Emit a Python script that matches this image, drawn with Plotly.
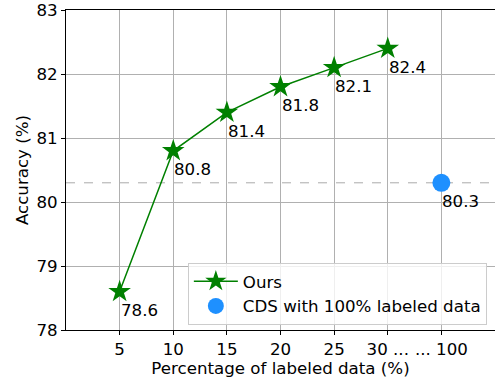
import plotly.graph_objects as go

tick_labels = ["5", "10", "15", "20", "25", "30 ...", "... 100"]
ours_labels = ["5", "10", "15", "20", "25", "30 ..."]
ours_acc = [78.6, 80.8, 81.4, 81.8, 82.1, 82.4]
cds_labels = ["... 100"]
cds_acc = [80.3]
y_ticks = [78, 79, 80, 81, 82, 83]

FONT = "DejaVu Sans"
FS = 16.67

# x positions follow the tick-label order (1-based, axis starts at 0)
pos = {lab: i + 1 for i, lab in enumerate(tick_labels)}
ours_x = [pos[l] for l in ours_labels]
cds_x = [pos[l] for l in cds_labels]

fig = go.Figure()
fig.add_trace(go.Scatter(
    x=ours_x, y=ours_acc, mode="lines+markers", name="Ours",
    line=dict(color="#008000", width=1.5),
    marker=dict(symbol="star", size=17, color="#008000", line=dict(width=0)),
))
fig.add_trace(go.Scatter(
    x=cds_x, y=cds_acc, mode="markers", name="CDS with 100% labeled data",
    marker=dict(symbol="circle", size=18, color="#1E90FF", line=dict(width=0)),
))

# horizontal dashed reference line at the CDS value
fig.add_shape(type="line", xref="paper", x0=0, x1=1, yref="y",
              y0=cds_acc[0], y1=cds_acc[0], layer="between",
              line=dict(color="#aaaaaa", width=1, dash="dash"))

for xv, yv in list(zip(ours_x, ours_acc)) + list(zip(cds_x, cds_acc)):
    fig.add_annotation(x=xv, y=yv, text=f"{yv:.1f}", showarrow=False,
                       xanchor="left", yanchor="middle", xshift=-1, yshift=-19,
                       font=dict(family=FONT, size=FS, color="black"))

fig.update_layout(
    width=495, height=382,
    margin=dict(l=66, r=0, t=10, b=52),
    paper_bgcolor="white", plot_bgcolor="white",
    font=dict(family=FONT, size=FS, color="black"),
    showlegend=True,
    legend=dict(
        x=0.981, y=0.016, xanchor="right", yanchor="bottom",
        bgcolor="rgba(255,255,255,0.8)", bordercolor="#cccccc", borderwidth=1,
        font=dict(family=FONT, size=FS, color="black"),
        tracegroupgap=0, itemwidth=44,
    ),
)
fig.update_xaxes(
    range=[0, 8], tickvals=list(pos.values()), ticktext=tick_labels,
    showgrid=True, gridcolor="#b0b0b0", gridwidth=1,
    showline=True, linecolor="black", linewidth=1, mirror=True,
    ticks="outside", ticklen=4, tickcolor="black",
    title=dict(text="Percentage of labeled data (%)", standoff=2,
               font=dict(family=FONT, size=FS)),
    tickfont=dict(family=FONT, size=FS),
    zeroline=False, automargin=False,
)
fig.update_yaxes(
    range=[78, 83], tickvals=y_ticks, showgrid=True, gridcolor="#b0b0b0", gridwidth=1,
    showline=True, linecolor="black", linewidth=1, mirror=False,
    ticks="outside", ticklen=4, tickcolor="black", ticklabeloverflow="allow",
    title=dict(text="Accuracy (%)", standoff=3, font=dict(family=FONT, size=FS)),
    tickfont=dict(family=FONT, size=FS),
    zeroline=False, automargin=False,
)

fig.write_html("out.html", config={"displayModeBar": False},
               post_script="document.body.style.margin='0';")
